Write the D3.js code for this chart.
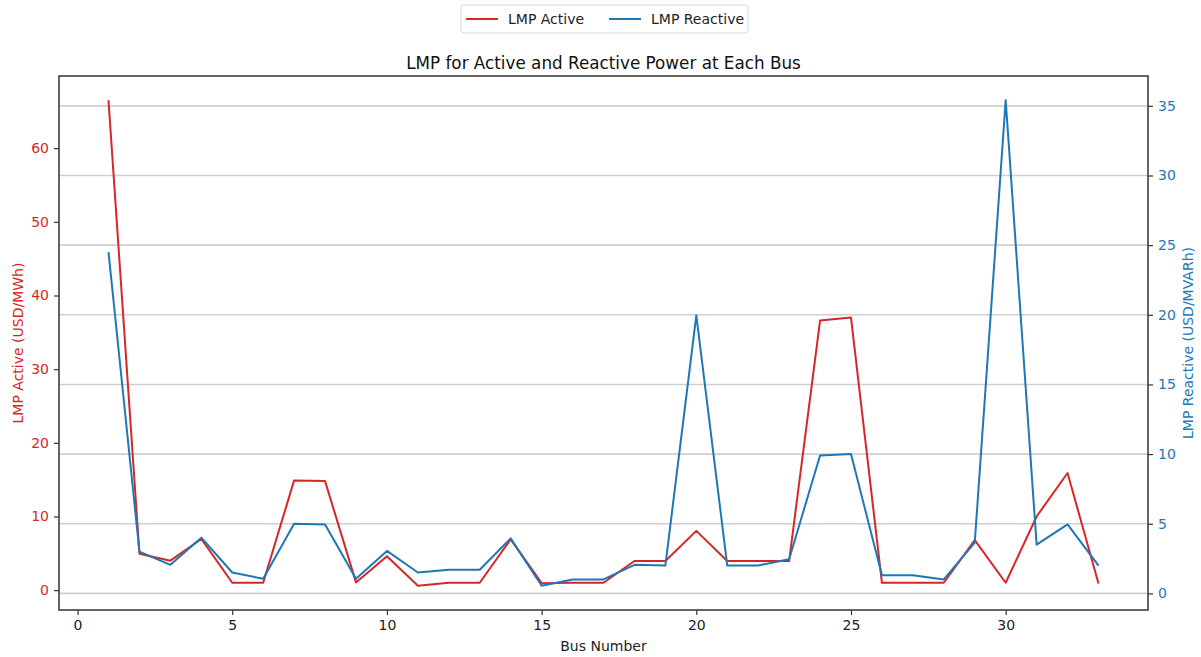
<!DOCTYPE html>
<html>
<head>
<meta charset="utf-8">
<script src="https://cdn.jsdelivr.net/npm/d3@7"></script>
<style>
  html, body { margin: 0; padding: 0; background: #fff; }
  svg { display: block; font-family: "DejaVu Sans", sans-serif; }
</style>
</head>
<body>
<svg id="chart" width="1201" height="657"></svg>
<script>
// Bus numbers and locational marginal prices per bus
const buses = d3.range(1, 34);
const lmpActive = [66.5, 4.95, 4.0, 6.95, 1.0, 1.0, 14.9, 14.8, 1.05, 4.6,
                   0.6, 1.0, 1.0, 6.9, 0.95, 1.0, 1.0, 3.95, 3.95, 8.05,
                   3.95, 3.95, 3.95, 36.6, 37.0, 1.0, 1.0, 1.0, 6.8, 1.0,
                   10.0, 15.9, 0.9];
const lmpReactive = [24.5, 3.0, 2.05, 4.0, 1.5, 1.05, 5.0, 4.95, 1.05, 3.05,
                     1.5, 1.7, 1.7, 3.95, 0.55, 1.0, 1.0, 2.05, 2.0, 19.95,
                     2.0, 2.0, 2.45, 9.9, 10.0, 1.3, 1.3, 1.0, 3.65, 35.4,
                     3.5, 4.95, 2.0];
const xTicks = [0, 5, 10, 15, 20, 25, 30];
const leftTicks = [0, 10, 20, 30, 40, 50, 60];
const rightTicks = [0, 5, 10, 15, 20, 25, 30, 35];

const RED = "#d62728", BLUE = "#1f77b4", SPINE = "#333";
const plot = { left: 59, right: 1148, top: 76, bottom: 610 };

const svg = d3.select("#chart");

// padded extent, 5% margin on both sides
function padded(vals) {
  const [lo, hi] = d3.extent(vals);
  const m = (hi - lo) * 0.05;
  return [lo - m, hi + m];
}

const x = d3.scaleLinear().domain(padded(buses)).range([plot.left, plot.right]);
const yL = d3.scaleLinear().domain(padded(lmpActive)).range([plot.bottom, plot.top]);
const yR = d3.scaleLinear().domain(padded(lmpReactive)).range([plot.bottom, plot.top]);

// horizontal grid from the reactive axis
svg.append("g")
  .selectAll("line")
  .data(rightTicks)
  .join("line")
  .attr("x1", plot.left).attr("x2", plot.right)
  .attr("y1", d => yR(d)).attr("y2", d => yR(d))
  .attr("stroke", "#cfcfcf").attr("stroke-width", 1.6);

// series lines
const lineA = d3.line().x((d, i) => x(buses[i])).y(d => yL(d));
const lineR = d3.line().x((d, i) => x(buses[i])).y(d => yR(d));

svg.append("path").datum(lmpActive)
  .attr("d", lineA).attr("fill", "none")
  .attr("stroke", RED).attr("stroke-width", 2).attr("stroke-linejoin", "round");
svg.append("path").datum(lmpReactive)
  .attr("d", lineR).attr("fill", "none")
  .attr("stroke", BLUE).attr("stroke-width", 2).attr("stroke-linejoin", "round");

// axes
function styleAxis(g, color) {
  g.select(".domain").remove();
  g.selectAll(".tick line").attr("stroke", SPINE).attr("stroke-width", 1.2);
  g.selectAll(".tick text").attr("fill", color)
    .style("font-family", "'DejaVu Sans', sans-serif").style("font-size", "14px");
}

svg.append("g")
  .attr("transform", `translate(0,${plot.bottom})`)
  .call(d3.axisBottom(x).tickValues(xTicks).tickSize(5).tickPadding(5).tickFormat(d3.format("d")))
  .call(g => styleAxis(g, "#222"));

svg.append("g")
  .attr("transform", `translate(${plot.left},0)`)
  .call(d3.axisLeft(yL).tickValues(leftTicks).tickSize(5).tickPadding(5).tickFormat(d3.format("d")))
  .call(g => styleAxis(g, RED));

svg.append("g")
  .attr("transform", `translate(${plot.right},0)`)
  .call(d3.axisRight(yR).tickValues(rightTicks).tickSize(5).tickPadding(5).tickFormat(d3.format("d")))
  .call(g => styleAxis(g, BLUE));

// frame
svg.append("rect")
  .attr("x", plot.left).attr("y", plot.top)
  .attr("width", plot.right - plot.left).attr("height", plot.bottom - plot.top)
  .attr("fill", "none").attr("stroke", SPINE).attr("stroke-width", 1.5);

// title and axis labels
svg.append("text")
  .attr("x", (plot.left + plot.right) / 2).attr("y", 69)
  .attr("text-anchor", "middle").attr("font-size", 16.8).attr("fill", "#111")
  .text("LMP for Active and Reactive Power at Each Bus");

svg.append("text")
  .attr("x", (plot.left + plot.right) / 2).attr("y", 651)
  .attr("text-anchor", "middle").attr("font-size", 14).attr("fill", "#222")
  .text("Bus Number");

svg.append("text")
  .attr("transform", `translate(23,${(plot.top + plot.bottom) / 2}) rotate(-90)`)
  .attr("text-anchor", "middle").attr("font-size", 14).attr("fill", RED)
  .text("LMP Active (USD/MWh)");

svg.append("text")
  .attr("transform", `translate(1193,${(plot.top + plot.bottom) / 2}) rotate(-90)`)
  .attr("text-anchor", "middle").attr("font-size", 14).attr("fill", BLUE)
  .text("LMP Reactive (USD/MVARh)");

// legend
const legendItems = [
  { label: "LMP Active", color: RED, x: 466 },
  { label: "LMP Reactive", color: BLUE, x: 609 }
];
svg.append("rect")
  .attr("x", 461).attr("y", 5).attr("width", 287).attr("height", 28)
  .attr("rx", 3).attr("fill", "#fff").attr("stroke", "#d8d8d8").attr("stroke-width", 1);
const lg = svg.append("g").selectAll("g").data(legendItems).join("g")
  .attr("transform", d => `translate(${d.x},19)`);
lg.append("line").attr("x1", 0).attr("x2", 32).attr("y1", 0).attr("y2", 0)
  .attr("stroke", d => d.color).attr("stroke-width", 2);
lg.append("text").attr("x", 42).attr("y", 5).attr("font-size", 14).attr("fill", "#222")
  .text(d => d.label);
</script>
</body>
</html>
